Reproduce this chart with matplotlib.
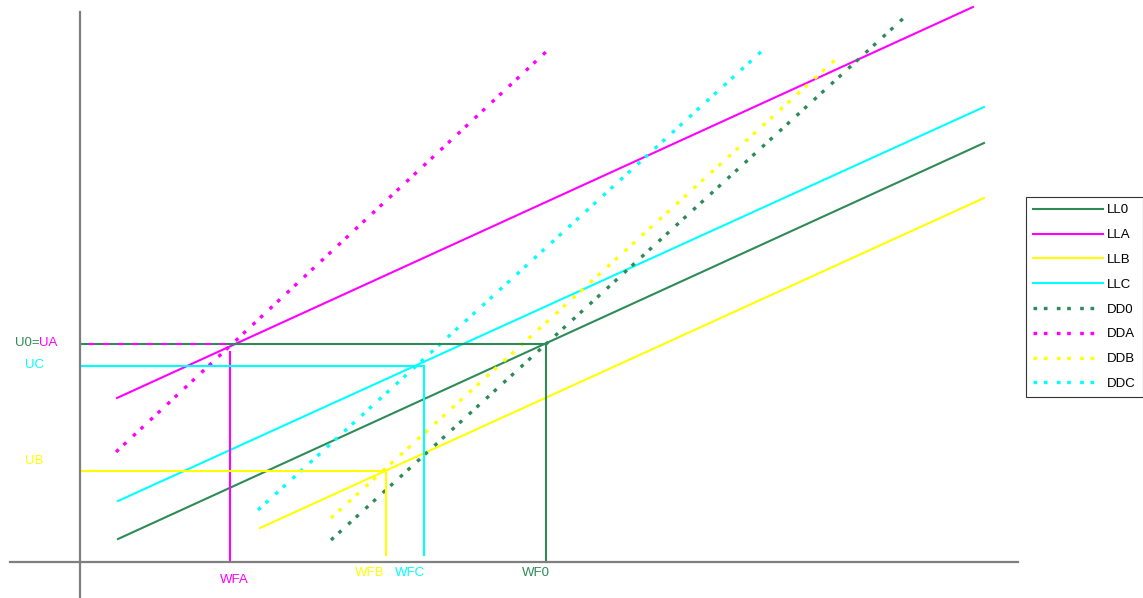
import matplotlib
matplotlib.use("Agg")
import matplotlib.pyplot as plt

plt.rcParams["font.family"] = ["Liberation Sans", "DejaVu Sans"]

# ---------------- data (units: origin at axes crossing) ----------------
# supply-type lines (solid)
ll0_x = [38, 904];  ll0_y = [23, 419]
lla_x = [37, 893];  lla_y = [164, 555]
llb_x = [180, 904]; llb_y = [34, 364]
llc_x = [38, 904];  llc_y = [61, 455]
# demand-type lines (dotted)
dd0_x = [251, 827]; dd0_y = [22, 547]
dda_x = [36, 468];  dda_y = [110, 512]
ddb_x = [251, 755]; ddb_y = [44, 502]
ddc_x = [178, 683]; ddc_y = [52, 512]

# equilibrium levels
u0 = 218
uc = 196
ub = 91
wfa = 150
wfb = 306
wfc = 344
wf0 = 466
wfa_top = 210      # top of the WFA guide
guide_bottom = 7   # bottom of WFB/WFC guides

series_names = ["LL0", "LLA", "LLB", "LLC", "DD0", "DDA", "DDB", "DDC"]

GREEN = "#2E8B57"
MAGENTA = "#FF00FF"
YELLOW = "#FFFF00"
CYAN = "#00FFFF"
AXIS = "#7F7F7F"

W, H = 1143, 598
fig = plt.figure(figsize=(W / 100, H / 100), dpi=100)
ax = fig.add_axes([0, 0, 1, 1])
ax.set_xlim(-80, W - 80)
ax.set_ylim(-(H - 562), 562)
ax.set_xticks([]); ax.set_yticks([])
ax.patch.set_alpha(0)
for s in ["top", "right"]:
    ax.spines[s].set_visible(False)
ax.spines["bottom"].set_position(("data", 0))
ax.spines["bottom"].set_bounds(-70, 938)
ax.spines["left"].set_position(("data", 0))
ax.spines["left"].set_bounds(-36, 550)
for s in ["bottom", "left"]:
    ax.spines[s].set_color(AXIS)
    ax.spines[s].set_linewidth(1.6)

lw = 1.5
dlw = 2.4
dot = (0, (1.1, 2.0, 1.1, 2.8))
handles = []
handles += ax.plot(ll0_x, ll0_y, color=GREEN, lw=lw)
handles += ax.plot(lla_x, lla_y, color=MAGENTA, lw=lw)
handles += ax.plot(llb_x, llb_y, color=YELLOW, lw=lw)
handles += ax.plot(llc_x, llc_y, color=CYAN, lw=lw)
handles += ax.plot(dd0_x, dd0_y, color=GREEN, lw=dlw, ls=dot)
handles += ax.plot(dda_x, dda_y, color=MAGENTA, lw=dlw, ls=dot)
handles += ax.plot(ddb_x, ddb_y, color=YELLOW, lw=dlw, ls=dot)
handles += ax.plot(ddc_x, ddc_y, color=CYAN, lw=dlw, ls=dot)

# guide lines
ax.plot([0, wfa], [u0, u0], color=MAGENTA, lw=lw, ls=(3.5, (4, 3)))
ax.plot([0, wfa], [u0, u0], color=GREEN, lw=lw, ls=(0, (4, 3)))
ax.plot([wfa, wf0], [u0, u0], color=GREEN, lw=lw)
ax.plot([wf0, wf0], [u0, 0], color=GREEN, lw=lw)
ax.plot([wfa, wfa], [wfa_top, 0], color=MAGENTA, lw=lw)
ax.plot([0, wfc], [uc, uc], color=CYAN, lw=lw)
ax.plot([wfc, wfc], [uc, guide_bottom], color=CYAN, lw=lw)
ax.plot([0, wfb], [ub, ub], color=YELLOW, lw=lw)
ax.plot([wfb, wfb], [ub, guide_bottom], color=YELLOW, lw=lw)

fs = 9.5
ax.text(-40, u0 + 1, "U0=", color=GREEN, fontsize=fs, ha="right", va="center")
ax.text(-41, u0 + 1, "UA", color=MAGENTA, fontsize=fs, ha="left", va="center")
ax.text(-46, uc + 1, "UC", color=CYAN, fontsize=fs, ha="center", va="center")
ax.text(-46, ub + 10, "UB", color=YELLOW, fontsize=fs, ha="center", va="center")
ax.text(wfa + 4, -18, "WFA", color=MAGENTA, fontsize=fs, ha="center", va="center")
ax.text(wfb - 16, -11, "WFB", color=YELLOW, fontsize=fs, ha="center", va="center")
ax.text(wfc - 14, -11, "WFC", color=CYAN, fontsize=fs, ha="center", va="center")
ax.text(wf0 - 10, -11, "WF0", color=GREEN, fontsize=fs, ha="center", va="center")

leg = ax.legend(handles, series_names, loc="upper left",
                bbox_to_anchor=(1026 / W, 1 - 197 / H), bbox_transform=fig.transFigure,
                fontsize=9.5, handlelength=5.3, handletextpad=0.3, labelspacing=0.95,
                borderpad=0.55, borderaxespad=0, fancybox=False, frameon=True)
leg.get_frame().set_edgecolor("black")
leg.get_frame().set_linewidth(0.8)

fig.savefig("out.png", dpi=100)
